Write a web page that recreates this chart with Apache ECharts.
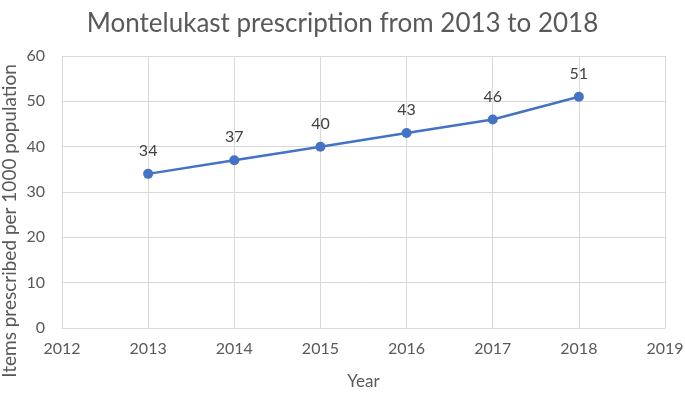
<!DOCTYPE html>
<html><head><meta charset="utf-8">
<script src="https://cdn.jsdelivr.net/npm/echarts@6/dist/echarts.min.js"></script>
<style>html,body{margin:0;padding:0;background:#fff}#c{width:685px;height:394px}</style>
</head><body><div id="c"></div>
<script>
var years = [2013, 2014, 2015, 2016, 2017, 2018];
var items = [34, 37, 40, 43, 46, 51];
var title = 'Montelukast prescription from 2013 to 2018';
var xName = 'Year';
var yName = 'Items prescribed per 1000 population';

var chart = echarts.init(document.getElementById('c'));
var font = 'Lato, "Open Sans", sans-serif';
chart.setOption({
  animation: false,
  backgroundColor: '#fff',
  title: {text: title, left: 'center', top: 6,
    textStyle: {fontFamily: font, fontSize: 26, fontWeight: 'normal', color: '#595959'}},
  grid: {left: 62, right: 20, top: 56, bottom: 66, containLabel: false, outerBoundsMode: 'none'},
  graphic: [{type: 'text', rotation: Math.PI / 2,
    x: 10, y: 221,
    style: {text: yName, fontFamily: font, fontSize: 19, fill: '#595959',
      textAlign: 'center', textVerticalAlign: 'middle'}}],
  xAxis: {type: 'value', min: 2012, max: 2019, interval: 1,
    name: xName, nameLocation: 'middle', nameGap: 45,
    nameTextStyle: {fontFamily: font, fontSize: 17, color: '#595959'},
    axisLine: {show: true, lineStyle: {color: '#d9d9d9'}},
    axisTick: {show: false},
    splitLine: {show: true, lineStyle: {color: '#d9d9d9'}},
    axisLabel: {fontFamily: font, fontSize: 16, color: '#595959', margin: 13,
      formatter: function (v) { return String(v); }}},
  yAxis: {type: 'value', min: 0, max: 60, interval: 10,
    axisLine: {show: false}, axisTick: {show: false},
    splitLine: {show: true, lineStyle: {color: '#d9d9d9'}},
    axisLabel: {fontFamily: font, fontSize: 16, color: '#595959', margin: 17}},
  series: [{type: 'line', data: years.map(function(y, i){return [y, items[i]];}),
    symbol: 'circle', symbolSize: 10,
    lineStyle: {color: '#4472C4', width: 2.5},
    itemStyle: {color: '#4472C4'},
    label: {show: true, position: 'top', distance: 10,
      fontFamily: font, fontSize: 16, color: '#404040'}}]
});
</script></body></html>
